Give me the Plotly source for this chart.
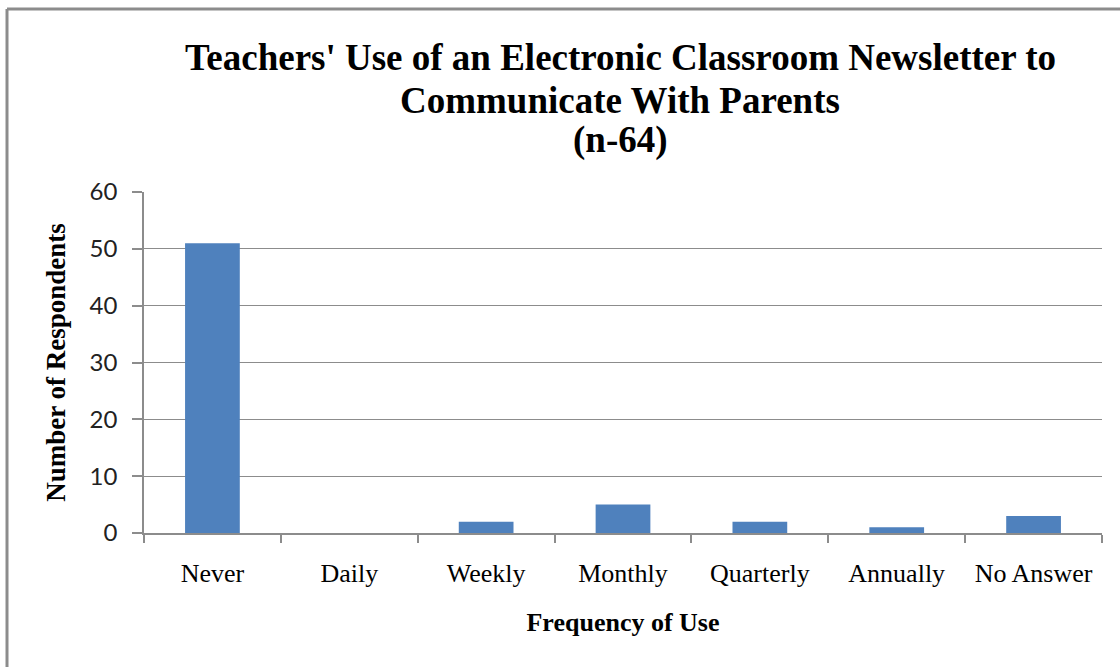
import plotly.graph_objects as go

# Survey responses by frequency of use
categories = ["Never", "Daily", "Weekly", "Monthly", "Quarterly", "Annually", "No Answer"]
respondents = [51, 0, 2, 5, 2, 1, 3]
y_ticks = [0, 10, 20, 30, 40, 50, 60]
title_lines = [
    "Teachers' Use of an Electronic Classroom Newsletter to",
    "Communicate With Parents",
    "(n-64)",
]

BAR = "#4F81BD"
GRID = "#8C8C8C"
SERIF = "Liberation Serif, Times New Roman, serif"
SANS = "Lato, Carlito, Calibri, sans-serif"

fig = go.Figure(
    go.Bar(
        x=categories,
        y=respondents,
        marker=dict(color=BAR, line=dict(width=0)),
        width=0.4,
    )
)

# three-line chart heading, each line placed in pixels above the plot
title_y_px = [58, 100, 140]
plot_top, plot_bottom = 192, 533
annotations = [
    dict(text=line, xref="paper", yref="paper",
         x=0.5 + (620 - (144 + 958 / 2)) / 958,
         y=(plot_bottom - ypx) / (plot_bottom - plot_top),
         xanchor="center", yanchor="middle", showarrow=False,
         font=dict(family=SERIF, size=37, color="black", weight="bold"))
    for line, ypx in zip(title_lines, title_y_px)
]

fig.update_layout(
    width=1120,
    height=667,
    paper_bgcolor="white",
    plot_bgcolor="white",
    margin=dict(l=144, r=18, t=192, b=134, autoexpand=False),
    showlegend=False,
    annotations=annotations,
    xaxis=dict(
        type="category",
        showgrid=False,
        showline=True, linecolor=GRID, linewidth=1.5,
        ticks="outside", tickson="boundaries", ticklen=8, tickcolor=GRID, tickwidth=1.5,
        tickfont=dict(family=SERIF, size=26, color="black"),
        ticklabelstandoff=16,
        title=dict(text="Frequency of Use",
                   font=dict(family=SERIF, size=26, color="black", weight="bold"),
                   standoff=26),
    ),
    yaxis=dict(
        range=[0, 60],
        tickvals=y_ticks,
        showgrid=True, gridcolor=GRID, gridwidth=1,
        zeroline=False,
        showline=True, linecolor=GRID, linewidth=1.5,
        ticks="outside", ticklen=10, tickcolor=GRID, tickwidth=1.5,
        tickfont=dict(family=SANS, size=24, color="#222222"),
        ticklabelstandoff=10,
        title=dict(text="Number of Respondents",
                   font=dict(family=SERIF, size=27, color="black", weight="bold"),
                   standoff=16),
    ),
    shapes=[
        # outer chart frame (top and left edges)
        dict(type="line", xref="paper", yref="paper",
             x0=-0.143, x1=1.03, y0=1.5367, y1=1.5367,
             line=dict(color="#8C8C8C", width=3)),
        dict(type="line", xref="paper", yref="paper",
             x0=-0.143, x1=-0.143, y0=1.5367, y1=-0.5,
             line=dict(color="#8C8C8C", width=3)),
    ],
)

fig.write_html("out.html")
